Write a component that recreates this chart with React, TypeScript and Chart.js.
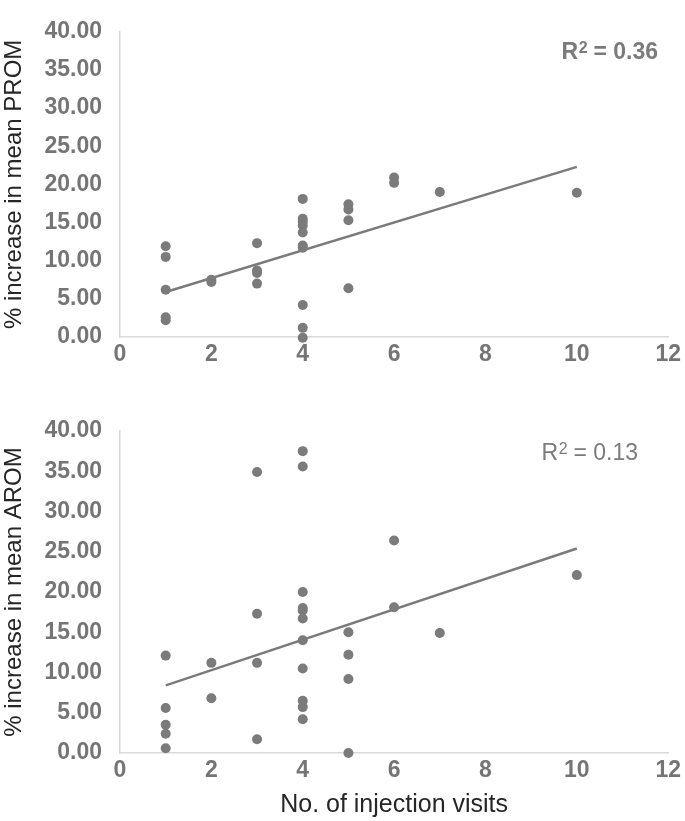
import React, { useEffect, useRef } from "react";
import { Chart, registerables } from "chart.js";

Chart.register(...registerables);

// ---- Data ----
const visitsPROM = [1, 1, 1, 1, 1, 2, 2, 3, 3, 3, 3, 4, 4, 4, 4, 4, 4, 4, 4, 4, 4, 5, 5, 5, 5, 6, 6, 7, 10];
const pctPROM = [11.9, 10.5, 6.2, 2.6, 2.2, 7.5, 7.2, 12.3, 8.7, 8.4, 7.0, 18.1, 15.5, 15.1, 14.6, 13.7, 12.0, 11.7, 4.2, 1.2, -0.1, 17.4, 16.7, 15.3, 6.4, 20.9, 20.2, 19.0, 18.9];

const visitsAROM = [1, 1, 1, 1, 1, 2, 2, 3, 3, 3, 3, 4, 4, 4, 4, 4, 4, 4, 4, 4, 4, 4, 5, 5, 5, 5, 6, 6, 7, 10];
const pctAROM = [12.1, 5.6, 3.5, 2.4, 0.6, 11.2, 6.8, 34.9, 17.3, 11.2, 1.7, 37.5, 35.6, 20.0, 18.0, 17.7, 16.7, 14.0, 10.5, 6.5, 5.7, 4.2, 15.0, 12.2, 9.2, 0.0, 26.4, 18.1, 14.9, 22.1];

// trendline end points as drawn
const trendX = [1, 10];
const trendPROM = [5.9, 22.3];
const trendAROM = [8.4, 25.4];

const r2PROM = "0.36";
const r2AROM = "0.13";

const xTitle = "No. of injection visits";
const yTitlePROM = "% increase in mean PROM";
const yTitleAROM = "% increase in mean AROM";

const FONT = "'Liberation Sans', Arial, Helvetica, sans-serif";
const GRAY = "#7b7b7b";
const TICK = "#757575";
const TITLE = "#262626";
const AXIS = "#d9d9d9";

type PanelProps = {
  xs: number[];
  ys: number[];
  trend: number[];
  yTitle: string;
  xTitleText?: string;
  r2: string;
  r2Bold: boolean;
  r2Right: number;
  r2Y: number;
  width: number;
  height: number;
  padTop: number;
  xAxisHeight: number;
};

function Panel(p: PanelProps) {
  const ref = useRef<HTMLCanvasElement | null>(null);
  useEffect(() => {
    if (!ref.current) return;
    const points = p.xs.map((x, i) => ({ x, y: p.ys[i] }));
    const trend = trendX.map((x, i) => ({ x, y: p.trend[i] }));
    const r2Plugin = {
      id: "r2label",
      afterDraw(chart: any) {
        const ctx = chart.ctx;
        const weight = p.r2Bold ? "bold " : "";
        const main = `${weight}23px ${FONT}`;
        const sup = `${weight}16px ${FONT}`;
        ctx.save();
        ctx.fillStyle = GRAY;
        ctx.textBaseline = "alphabetic";
        ctx.textAlign = "left";
        ctx.font = main;
        const wR = ctx.measureText("R").width;
        const rest = " = " + p.r2;
        const wRest = ctx.measureText(rest).width;
        ctx.font = sup;
        const w2 = ctx.measureText("2").width;
        const total = wR + w2 + wRest;
        let x = p.r2Right - total;
        const base = p.r2Y + 8;
        ctx.font = main;
        ctx.fillText("R", x, base);
        x += wR;
        ctx.font = sup;
        ctx.fillText("2", x + 0.5, base - 6);
        x += w2;
        ctx.font = main;
        ctx.fillText(rest, x, base);
        ctx.restore();
      },
    };
    const chart = new Chart(ref.current, {
      type: "scatter",
      data: {
        datasets: [
          {
            type: "line",
            data: trend,
            borderColor: GRAY,
            borderWidth: 2.5,
            pointRadius: 0,
            fill: false,
            clip: false,
          } as any,
          {
            type: "scatter",
            data: points,
            backgroundColor: GRAY,
            borderWidth: 0,
            pointRadius: 5,
            clip: false,
          } as any,
        ],
      },
      options: {
        animation: false,
        responsive: false,
        events: [],
        layout: { padding: { top: p.padTop, right: 16, bottom: 0, left: 0 } },
        plugins: { legend: { display: false }, tooltip: { enabled: false } },
        scales: {
          x: {
            type: "linear",
            min: 0,
            max: 12,
            grid: { display: false, drawTicks: false },
            border: { display: true, color: AXIS, width: 1.5 },
            ticks: {
              stepSize: 2,
              padding: 4,
              color: TICK,
              font: { family: FONT, size: 23, weight: "bold" },
              callback: (v: any) => String(v),
            },
            title: {
              display: !!p.xTitleText,
              text: p.xTitleText || "",
              color: TITLE,
              font: { family: FONT, size: 25, weight: "normal" },
              padding: { top: 0, bottom: 1 },
            },
            afterFit: (s: any) => {
              s.height = p.xAxisHeight;
            },
          },
          y: {
            type: "linear",
            min: 0,
            max: 40,
            grid: { display: false, drawTicks: false },
            border: { display: true, color: AXIS, width: 1.5 },
            ticks: {
              stepSize: 5,
              padding: 18,
              color: TICK,
              font: { family: FONT, size: 23, weight: "bold" },
              callback: (v: any) => Number(v).toFixed(2),
            },
            title: {
              display: true,
              text: p.yTitle,
              color: TITLE,
              font: { family: FONT, size: 24, weight: "normal" },
              padding: { top: 0, bottom: 0 },
            },
            afterFit: (s: any) => {
              s.width = 120;
            },
          },
        },
      } as any,
      plugins: [r2Plugin],
    });
    return () => chart.destroy();
  }, []);
  return (
    <canvas
      ref={ref}
      width={p.width}
      height={p.height}
      style={{ display: "block", width: p.width, height: p.height }}
    />
  );
}

export default function App() {
  return (
    <div style={{ position: "absolute", left: 0, top: 0, width: 685, height: 821, background: "#fff" }}>
      <Panel
        xs={visitsPROM}
        ys={pctPROM}
        trend={trendPROM}
        yTitle={yTitlePROM}
        r2={r2PROM}
        r2Bold={true}
        r2Right={658}
        r2Y={51}
        width={685}
        height={385}
        padTop={16}
        xAxisHeight={48}
      />
      <Panel
        xs={visitsAROM}
        ys={pctAROM}
        trend={trendAROM}
        yTitle={yTitleAROM}
        xTitleText={xTitle}
        r2={r2AROM}
        r2Bold={false}
        r2Right={638}
        r2Y={67}
        width={685}
        height={436}
        padTop={46}
        xAxisHeight={68}
      />
    </div>
  );
}
